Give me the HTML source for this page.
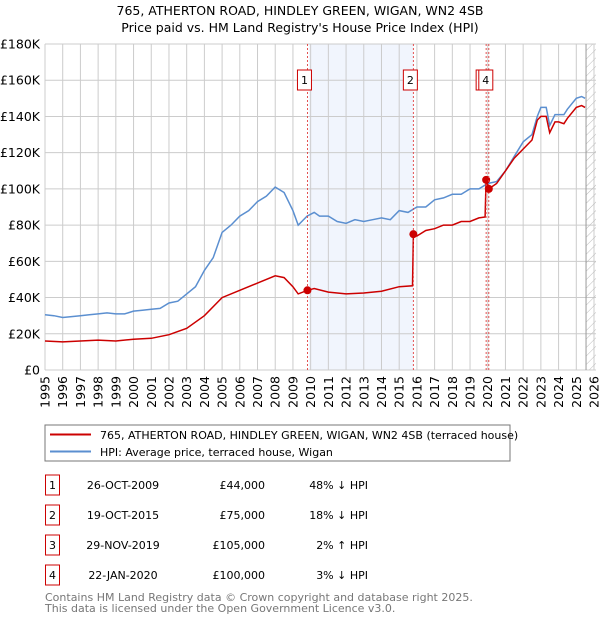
<!DOCTYPE html>
<html><head><meta charset="utf-8"><style>
body{margin:0;background:#fff;font-family:"Liberation Sans","DejaVu Sans",sans-serif;}
svg text{font-family:"DejaVu Sans","Liberation Sans",sans-serif;}
</style></head><body>
<svg id="c" width="600" height="620" xmlns="http://www.w3.org/2000/svg">
<text x="300" y="15" text-anchor="middle" font-size="12.5">765, ATHERTON ROAD, HINDLEY GREEN, WIGAN, WN2 4SB</text>
<text x="300" y="32" text-anchor="middle" font-size="12.5">Price paid vs. HM Land Registry's House Price Index (HPI)</text>
<g id="plot"></g>
<rect x="45" y="425" width="465" height="36" fill="#fff" stroke="#777"/>
<line x1="50" y1="434.5" x2="91" y2="434.5" stroke="#cc0000" stroke-width="2"/>
<text x="100" y="439" font-size="11">765, ATHERTON ROAD, HINDLEY GREEN, WIGAN, WN2 4SB (terraced house)</text>
<line x1="50" y1="451.5" x2="91" y2="451.5" stroke="#5b8fd0" stroke-width="2"/>
<text x="100" y="456" font-size="11">HPI: Average price, terraced house, Wigan</text>
<g id="tbl" font-size="11"></g>
<text x="45" y="601" font-size="11" fill="#777">Contains HM Land Registry data © Crown copyright and database right 2025.</text>
<text x="45" y="612" font-size="11" fill="#777">This data is licensed under the Open Government Licence v3.0.</text>
</svg>
<script>
const yearTicks=[1995,1996,1997,1998,1999,2000,2001,2002,2003,2004,2005,2006,2007,2008,2009,2010,2011,2012,2013,2014,2015,2016,2017,2018,2019,2020,2021,2022,2023,2024,2025,2026];
const priceTicks=[0,20000,40000,60000,80000,100000,120000,140000,160000,180000];
const priceTickLabels=["£0","£20K","£40K","£60K","£80K","£100K","£120K","£140K","£160K","£180K"];
const hpiYears=[1995,1995.5,1996,1996.5,1997,1997.5,1998,1998.5,1999,1999.5,2000,2000.5,2001,2001.5,2002,2002.5,2003,2003.5,2004,2004.5,2005,2005.5,2006,2006.5,2007,2007.5,2008,2008.5,2009,2009.3,2009.8,2010.2,2010.5,2011,2011.5,2012,2012.5,2013,2013.5,2014,2014.5,2015,2015.5,2016,2016.5,2017,2017.5,2018,2018.5,2019,2019.5,2020,2020.5,2021,2021.5,2022,2022.5,2022.8,2023,2023.3,2023.5,2023.8,2024,2024.3,2024.5,2025,2025.3,2025.5];
const hpiValues=[30500,30000,29000,29500,30000,30500,31000,31500,31000,31000,32500,33000,33500,34000,37000,38000,42000,46000,55000,62000,76000,80000,85000,88000,93000,96000,101000,98000,88000,80000,85000,87000,85000,85000,82000,81000,83000,82000,83000,84000,83000,88000,87000,90000,90000,94000,95000,97000,97000,100000,100000,103000,104000,110000,118000,126000,130000,140000,145000,145000,135000,141000,141000,141000,144000,150000,151000,150000];
const priceYears=[1995,1996,1997,1998,1999,2000,2001,2002,2003,2004,2005,2006,2007,2008,2008.5,2009,2009.3,2009.82,2010.2,2011,2012,2013,2014,2015,2015.75,2015.8,2016,2016.5,2017,2017.5,2018,2018.5,2019,2019.5,2019.85,2019.91,2020.06,2020.5,2021,2021.5,2022,2022.5,2022.8,2023,2023.3,2023.5,2023.8,2024,2024.3,2024.5,2025,2025.3,2025.5];
const priceValues=[16000,15500,16000,16500,16000,17000,17500,19500,23000,30000,40000,44000,48000,52000,51000,46000,42000,44000,45000,43000,42000,42500,43500,46000,46500,75000,74000,77000,78000,80000,80000,82000,82000,84000,84500,105000,100000,103000,110000,117000,122000,127000,138000,140000,140000,131000,137000,137000,136000,139000,145000,146000,145000];
const saleLabels=["1","2","3","4"];
const saleDates=[2009.82,2015.8,2019.91,2020.06];
const salePrices=[44000,75000,105000,100000];
const saleDateText=["26-OCT-2009","19-OCT-2015","29-NOV-2019","22-JAN-2020"];
const salePriceText=["£44,000","£75,000","£105,000","£100,000"];
const saleHpiText=["48% ↓ HPI","18% ↓ HPI","2% ↑ HPI","3% ↓ HPI"];

const NS="http://www.w3.org/2000/svg";
const L=45,R=596,T=44,B=370;
const x=y=>L+(y-1995)*(594-45)/31;
const yv=v=>B-v/180000*(B-T);
const g=document.getElementById('plot');
function mk(t,a,p){const e=document.createElementNS(NS,t);for(const k in a)e.setAttribute(k,a[k]);(p||g).appendChild(e);return e;}
let e;
e=mk('rect',{x:L,y:T,width:R-L,height:B-T,fill:'#fff'});


e=mk('rect',{x:x(2009.9),y:T,width:x(2015.8)-x(2009.9),height:B-T,fill:'#eef3fc',opacity:0.8});


yearTicks.forEach(yr=>{
 e=mk('line',{x1:x(yr),x2:x(yr),y1:T,y2:B,stroke:'#ccc'});
 
 
 e=mk('text',{x:0,y:0,'font-size':12.5,'text-anchor':'end',transform:`translate(${x(yr)+4.5},376) rotate(-90)`});
 e.textContent=yr;
 
 
});
priceTicks.forEach((v,i)=>{
 e=mk('line',{x1:L,x2:R,y1:yv(v),y2:yv(v),stroke:'#ccc'});
 
 
 e=mk('text',{x:40,y:yv(v)+4.5,'font-size':12.5,'text-anchor':'end'});
 e.textContent=priceTickLabels[i];
 
 
});
const defs=mk('defs',{});
const pat=mk('pattern',{id:'h',width:6,height:6,patternUnits:'userSpaceOnUse',patternTransform:'rotate(45)'},defs);
mk('line',{x1:0,y1:0,x2:0,y2:6,stroke:'#bbb','stroke-width':1},pat);
e=mk('rect',{x:x(2025.55),y:T,width:R-x(2025.55),height:B-T,fill:'url(#h)'});


e=mk('line',{x1:x(2025.55),x2:x(2025.55),y1:T,y2:B,stroke:'#999'});


e=mk('path',{d:hpiYears.map((yr,i)=>(i?'L':'M')+x(yr).toFixed(1)+','+yv(hpiValues[i]).toFixed(1)).join(''),fill:'none',stroke:'#5b8fd0','stroke-width':1.5});


e=mk('path',{d:priceYears.map((yr,i)=>(i?'L':'M')+x(yr).toFixed(1)+','+yv(priceValues[i]).toFixed(1)).join(''),fill:'none',stroke:'#cc0000','stroke-width':1.5});


saleDates.forEach((d,i)=>{
 e=mk('line',{x1:x(d),x2:x(d),y1:T,y2:B,stroke:'#e04040','stroke-dasharray':'2,2','stroke-width':0.9});
 
 
 e=mk('circle',{cx:x(d),cy:yv(salePrices[i]),r:4,fill:'#cc0000'});
 
 
});
saleDates.forEach((d,i)=>{
 e=mk('rect',{x:x(d)-10,y:70,width:14,height:20,fill:'#fff',stroke:'#cc0000'});
 
 
 e=mk('text',{x:x(d)-3,y:84,'font-size':11,'text-anchor':'middle'});
 e.textContent=saleLabels[i];
 
 
});
const tb=document.getElementById('tbl');
saleLabels.forEach((s,i)=>{
 const yy=483+i*30;
 e=mk('rect',{x:45.5,y:yy-8,width:14,height:20,fill:'#fff',stroke:'#cc0000'},tb);
 
 
 e=mk('text',{x:52.5,y:yy+6,'text-anchor':'middle'},tb);e.textContent=s;
 
 
 e=mk('text',{x:123,y:yy+6,'text-anchor':'middle'},tb);e.textContent=saleDateText[i];
 
 
 e=mk('text',{x:265,y:yy+6,'text-anchor':'end'},tb);e.textContent=salePriceText[i];
 
 
 e=mk('text',{x:368,y:yy+6,'text-anchor':'end'},tb);e.textContent=saleHpiText[i];
 
 
});
</script>
</body></html>
